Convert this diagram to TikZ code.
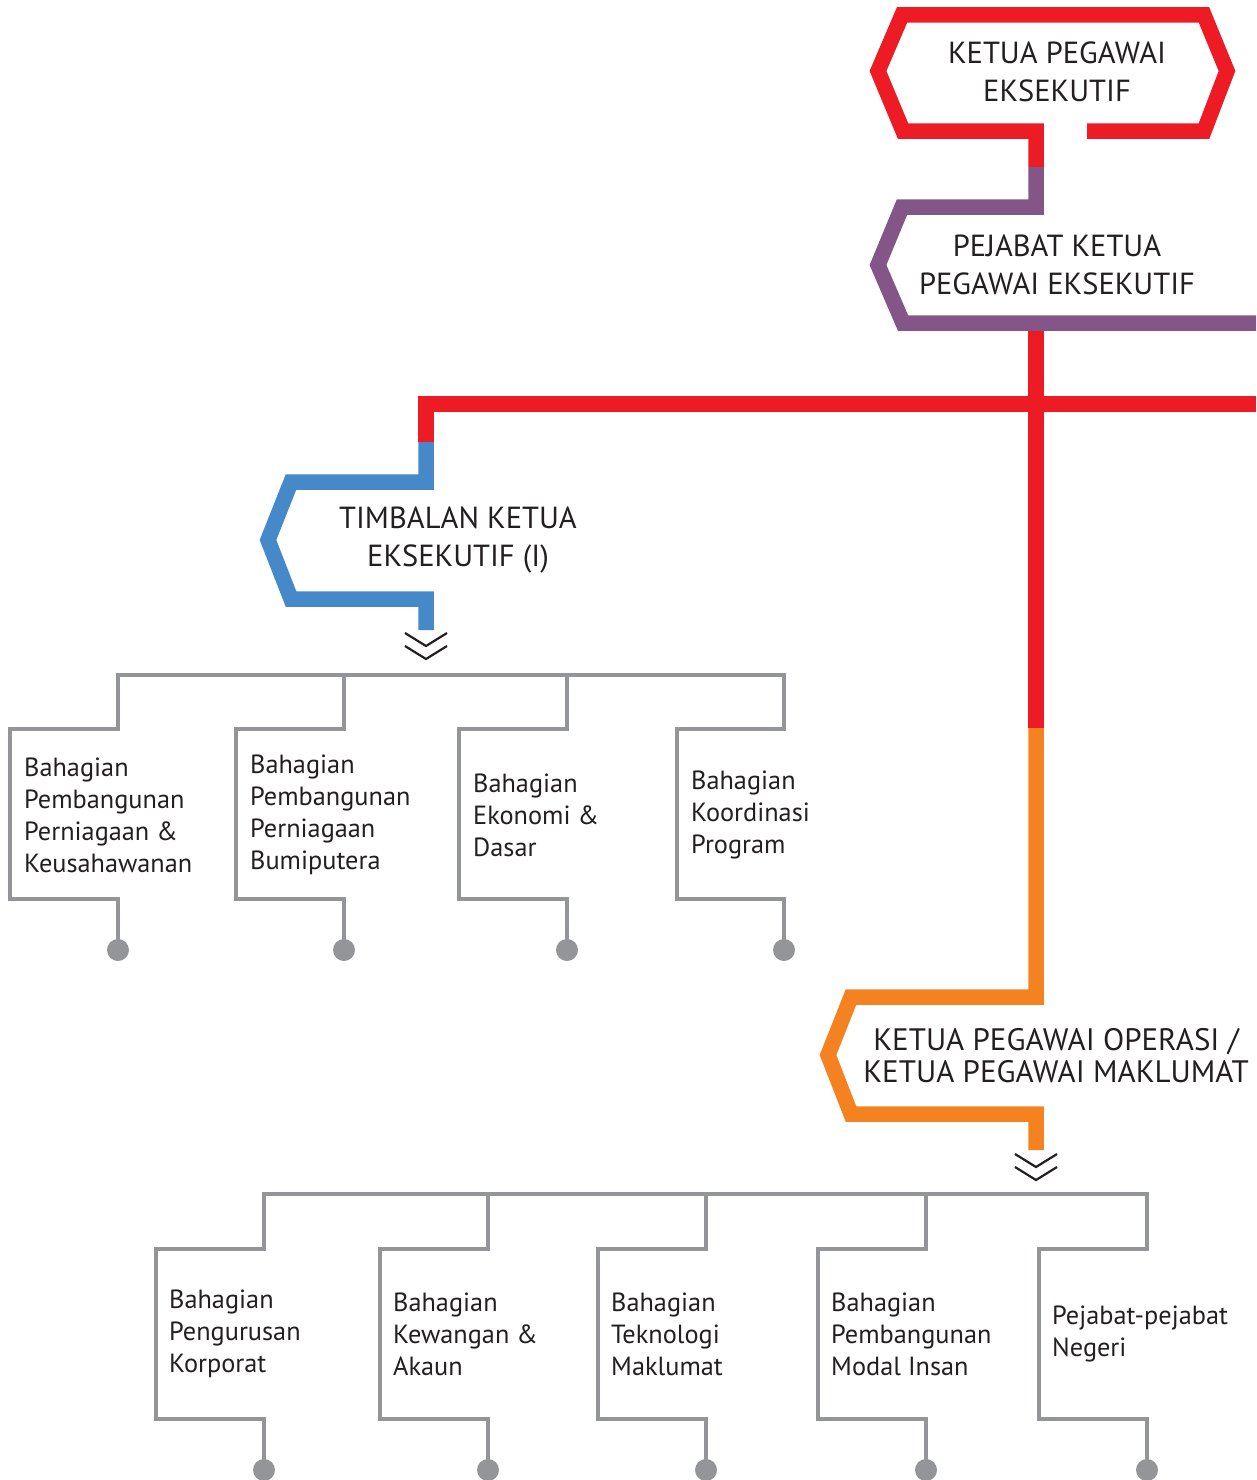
\documentclass[tikz,border=0pt]{standalone}
\usepackage{fontspec}
\setmainfont{PT Sans}
\definecolor{cred}{HTML}{ED1C24}
\definecolor{cpurple}{HTML}{835687}
\definecolor{cblue}{HTML}{4589C8}
\definecolor{corange}{HTML}{F58220}
\definecolor{cgray}{HTML}{939598}
\definecolor{ctext}{HTML}{231F20}
\begin{document}
\begin{tikzpicture}[x=1pt,y=-1pt,
  thick line/.style={line width=15.5pt,line join=miter,line cap=butt},
  grayline/.style={cgray,line width=4.5pt,line join=miter},
  chev/.style={ctext,line width=2.2pt},
  head/.style={font=\fontsize{30.5}{38}\selectfont,text=ctext,align=center,inner sep=0pt},
  dept/.style={font=\fontsize{26.3}{32}\selectfont,text=ctext,align=left,anchor=west,inner sep=0pt},
  enddot/.style={circle,fill=cgray,inner sep=0pt,minimum size=22pt}]
\useasboundingbox (0,0) rectangle (1256,1480);
% key coordinates
\coordinate (ceoA) at (1087,131);
\coordinate (ceoB) at (1036,167);
\coordinate (pjB) at (1036,323);
\coordinate (cross) at (1036,404);
\coordinate (split) at (1036,728);
\coordinate (rEdge) at (1256,404);
\coordinate (tbTop) at (426,442);
\coordinate (kpoEnd) at (1036,1150);
\coordinate (tbEnd) at (426,630);
% red main lines
\draw[thick line,cred] (pjB) -- (split);
\draw[thick line,cred] (rEdge) -- (426,404) -- (tbTop);
% CEO shape
\draw[thick line,cred] (ceoA) -- (1204,131) -- (1227,71) -- (1204,15) -- (902,15) -- (878,71) -- (903,131) -- (1036,131) -- (ceoB);
% Pejabat shape
\draw[thick line,cpurple] (ceoB) -- (1036,207) -- (902,207) -- (878,265) -- (903,323) -- (1256,323);
% Timbalan shape
\draw[thick line,cblue] (tbTop) -- (426,482) -- (291,482) -- (268,540) -- (291,599) -- (426,599) -- (tbEnd);
% KPO shape
\draw[thick line,corange] (split) -- (1036,997) -- (851,997) -- (828,1055) -- (851,1114) -- (1036,1114) -- (kpoEnd);
% headings
\node[head] (ceo) at (1057,72) {KETUA PEGAWAI\\EKSEKUTIF};
\node[head] (pj) at (1057,265) {PEJABAT KETUA\\PEGAWAI EKSEKUTIF};
\node[head] (tb) at (458,540) {TIMBALAN KETUA\\EKSEKUTIF (I)};
\node[head,font=\fontsize{31}{32}\selectfont] (kpo) at (1056,1056) {KETUA PEGAWAI OPERASI /\\KETUA PEGAWAI MAKLUMAT};
% chevrons
\draw[chev] (405,633) -- (426,646) -- (447,633);
\draw[chev] (405,646) -- (426,659) -- (447,646);
\draw[chev] (1015,1154) -- (1036,1167) -- (1057,1154);
\draw[chev] (1015,1167) -- (1036,1180) -- (1057,1167);
% top row of departments
\draw[grayline] (118,731) -- (118,675) -- (784,675) -- (784,731);
\foreach \X/\L/\txt [count=\i] in {
  118/10/{Bahagian\\Pembangunan\\Perniagaan \&\\Keusahawanan},
  344/236/{Bahagian\\Pembangunan\\Perniagaan\\Bumiputera},
  567/459/{Bahagian\\Ekonomi \&\\Dasar},
  784/677/{Bahagian\\Koordinasi\\Program}}{
  \draw[grayline] (\X,675) -- (\X,729) -- (\L,729) -- (\L,899) -- (\X,899) -- (\X,940);
  \node[enddot] (da\i) at (\X,950) {};
  \node[dept] (ta\i) at (\L+14,815) {\txt};
}
% bottom row of departments
\draw[grayline] (264,1250) -- (264,1194) -- (1147,1194) -- (1147,1250);
\foreach \X/\L/\txt [count=\i] in {
  264/156/{Bahagian\\Pengurusan\\Korporat},
  488/380/{Bahagian\\Kewangan \&\\Akaun},
  706/598/{Bahagian\\Teknologi\\Maklumat},
  926/818/{Bahagian\\Pembangunan\\Modal Insan},
  1147/1039/{Pejabat-pejabat\\Negeri}}{
  \draw[grayline] (\X,1194) -- (\X,1249) -- (\L,1249) -- (\L,1419) -- (\X,1419) -- (\X,1460);
  \node[enddot] (db\i) at (\X,1470) {};
  \node[dept] (tb\i) at (\L+13,1334) {\txt};
}
\end{tikzpicture}
\end{document}
